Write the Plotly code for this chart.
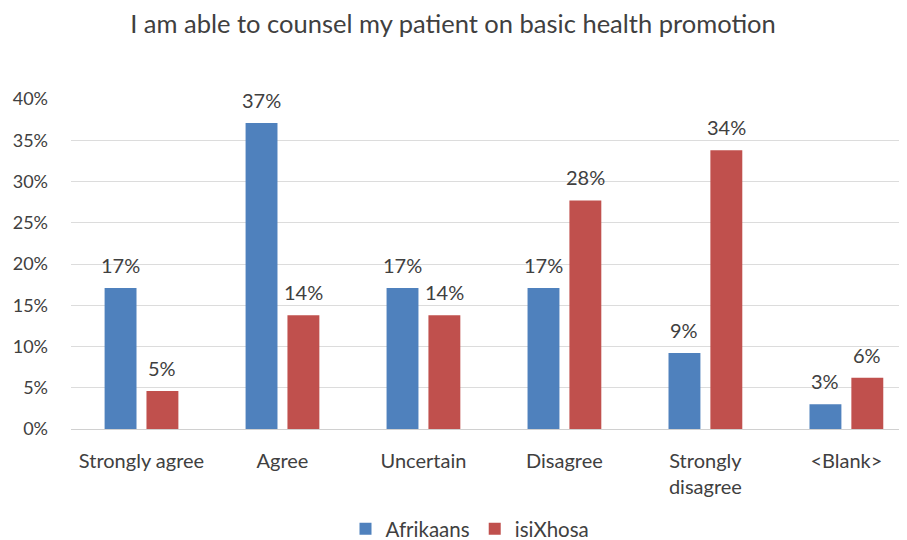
import plotly.graph_objects as go

categories = ["Strongly agree", "Agree", "Uncertain", "Disagree", "Strongly<br>disagree", "&lt;Blank&gt;"]
afrikaans = [17.1, 37.1, 17.1, 17.1, 9.2, 3.0]
isixhosa = [4.6, 13.8, 13.8, 27.7, 33.8, 6.2]
y_ticks = [0, 5, 10, 15, 20, 25, 30, 35, 40]
y_tick_labels = [f"{v}%" for v in y_ticks]

FONT = "Lato"
TXT = "#404040"
W, H = 899, 532  # page body has an 8px default margin

fig = go.Figure()
fig.add_trace(go.Bar(
    name="Afrikaans", x=categories, y=afrikaans,
    marker=dict(color="#4F81BD", line=dict(width=0)),
))
fig.add_trace(go.Bar(
    name="isiXhosa", x=categories, y=isixhosa,
    marker=dict(color="#C0504D", line=dict(width=0)),
))

annotations = []
for series, shift in ((afrikaans, -21), (isixhosa, 21)):
    for cat, val in zip(categories, series):
        annotations.append(dict(
            x=cat, y=val, xref="x", yref="y", text=f"{val:.0f}%",
            showarrow=False, xanchor="center", yanchor="bottom",
            xshift=shift, yshift=9,
            font=dict(family=FONT, size=20, color=TXT),
        ))

fig.update_layout(
    width=W, height=H,
    paper_bgcolor="white", plot_bgcolor="white",
    margin=dict(l=63, r=0, t=91, b=111, autoexpand=False),
    barmode="group", bargap=0.406, bargroupgap=0.238,
    title=dict(text="I am able to counsel my patient on basic health promotion",
               x=(453 - 8) / W, xanchor="center", y=1 - 7 / H, yanchor="top",
               pad=dict(t=0, b=0),
               font=dict(family=FONT, size=25.5, color=TXT)),
    font=dict(family=FONT, size=18, color=TXT),
    showlegend=True,
    legend=dict(orientation="h", x=(470 - 8) / W, xanchor="center", xref="container",
                y=-100 / 330, yanchor="middle", yref="paper",
                font=dict(family=FONT, size=20.5, color=TXT),
                itemwidth=30, traceorder="normal"),
    annotations=annotations,
)
fig.update_xaxes(
    range=[-0.5, 5.43], showgrid=False, showline=True, linecolor="#D0D0D0", linewidth=1,
    ticks="", tickfont=dict(family=FONT, size=20, color=TXT), ticklabelstandoff=14,
    automargin=False,
)
fig.update_yaxes(
    range=[0, 40], tickvals=y_ticks, ticktext=y_tick_labels,
    showgrid=True, gridcolor="#DCDCDC", gridwidth=1, zeroline=False,
    showline=False, ticks="", tickfont=dict(family=FONT, size=18, color=TXT),
    ticklabelstandoff=22, automargin=False,
)

fig.write_html("out.html")
